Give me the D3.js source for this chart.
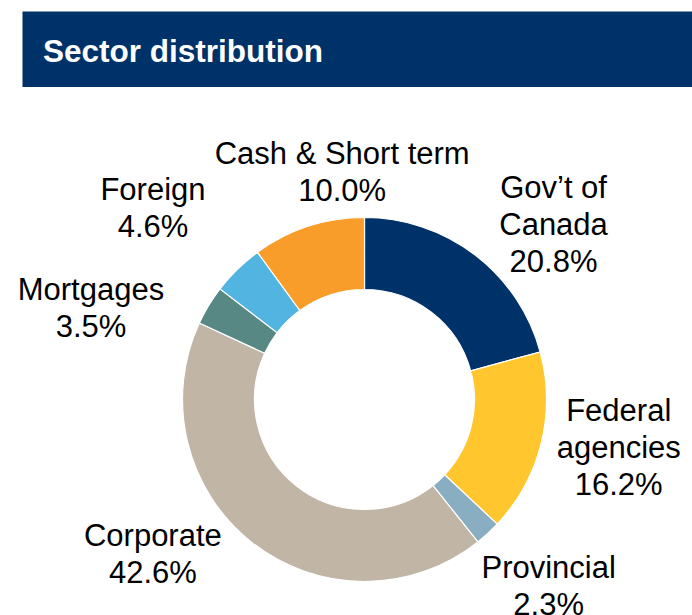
<!DOCTYPE html>
<html>
<head>
<meta charset="utf-8">
<script src="https://cdn.jsdelivr.net/npm/d3@7"></script>
<style>
  body { margin: 0; background: #fff; }
  svg { display: block; font-family: "Liberation Sans", Arial, sans-serif; }
</style>
</head>
<body>
<div id="chart"></div>
<script>
// sector weights, clockwise from 12 o'clock
var sectors = ["Gov’t of Canada", "Federal agencies", "Provincial", "Corporate", "Mortgages", "Foreign", "Cash & Short term"];
var weights = [20.8, 16.2, 2.3, 42.6, 3.5, 4.6, 10.0];
var labelLines = [["Gov’t of", "Canada"], ["Federal", "agencies"], ["Provincial"], ["Corporate"], ["Mortgages"], ["Foreign"], ["Cash & Short term"]];
var colors = ["#00326a", "#ffc62d", "#89aec1", "#c1b5a6", "#578883", "#52b4e0", "#f89c2a"];

// label nudges away from the arc's mid-angle point (like excel "best fit")
var labelNudge = [[31, 31], [2, -16], [8, -5], [-51, -50], [-51, 42], [-30, -6], [58, 19]];

var width = 692, height = 615,
    cx = 364.5, cy = 399.5,
    outerR = 182, innerR = 110,
    labelR = 260,
    lineH = 37;

var svg = d3.select("#chart").append("svg")
    .attr("width", width)
    .attr("height", height);

// title bar
svg.append("rect")
    .attr("x", 22.5)
    .attr("y", 11.5)
    .attr("width", width - 22.5)
    .attr("height", 75.5)
    .attr("fill", "#00326a");

svg.append("text")
    .attr("x", 43)
    .attr("y", 61.5)
    .attr("fill", "#fff")
    .attr("font-weight", "bold")
    .attr("font-size", "31.5px")
    .text("Sector distribution");

var pie = d3.pie().sort(null).value(function(d) { return d; });
var arcs = pie(weights);

var arc = d3.arc().innerRadius(innerR).outerRadius(outerR);
var labelArc = d3.arc().innerRadius(labelR).outerRadius(labelR);

var g = svg.append("g")
    .attr("transform", "translate(" + cx + "," + cy + ")");

g.selectAll("path.slice")
    .data(arcs)
    .enter().append("path")
    .attr("class", "slice")
    .attr("d", arc)
    .attr("fill", function(d, i) { return colors[i]; })
    .attr("stroke", "#fff")
    .attr("stroke-width", 1.2);

var labels = g.selectAll("text.lbl")
    .data(arcs)
    .enter().append("text")
    .attr("class", "lbl")
    .attr("text-anchor", "middle")
    .attr("font-size", "31px")
    .attr("fill", "#000");

labels.each(function(d, i) {
    var c = labelArc.centroid(d);
    var x = c[0] + labelNudge[i][0],
        y = c[1] + labelNudge[i][1];
    var lines = labelLines[i].concat([weights[i].toFixed(1) + "%"]);
    var first = y - (lines.length - 1) * lineH / 2 + 11;
    var t = d3.select(this);
    lines.forEach(function(s, k) {
        t.append("tspan")
            .attr("x", x)
            .attr("y", first + k * lineH)
            .text(s);
    });
});
</script>
</body>
</html>
